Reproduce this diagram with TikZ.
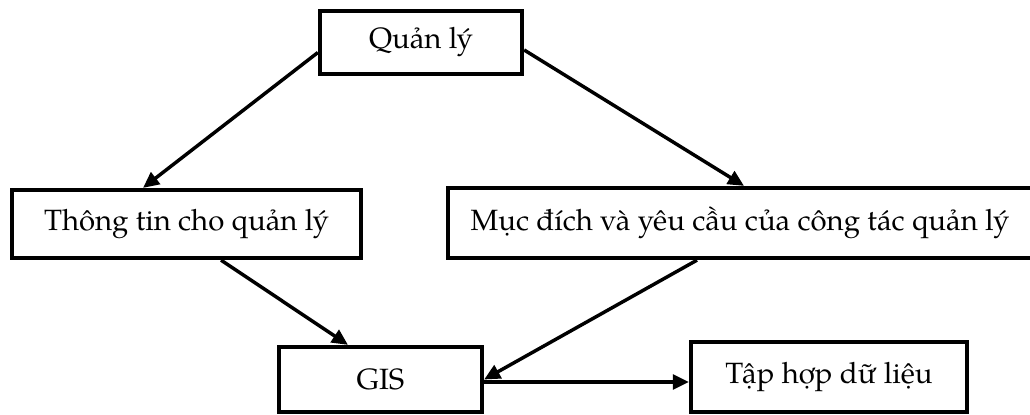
\documentclass[tikz,border=0pt]{standalone}
\usepackage{fontspec}
\setmainfont{texgyrepagella-regular.otf}
\usetikzlibrary{arrows.meta,calc}
\begin{document}
\begin{tikzpicture}[x=0.75pt,y=-0.75pt,
  box/.style={draw,line width=3.2pt,rectangle,inner sep=0pt,font=\fontsize{22}{26}\selectfont},
  link/.style={line width=2.6pt,-{Triangle[length=12pt,width=11pt]}}]
\useasboundingbox (0,0) rectangle (1030,414);
% boxes
\node[box,minimum width=151.5pt,minimum height=47.25pt] (q) at (421,42.5) {Quản lý};
\node[box,minimum width=261.75pt,minimum height=51pt] (t) at (186.5,224) {Thông tin cho quản lý};
\node[box,minimum width=438pt,minimum height=52.5pt] (m) at (740,223) {Mục đích và yêu cầu của công tác quản lý};
\node[box,minimum width=152.25pt,minimum height=48.75pt] (g) at (380.5,379.5) {GIS};
\node[box,minimum width=207pt,minimum height=52.5pt] (d) at (829,377) {Tập hợp dữ liệu};
% connectors
\draw[link] ([yshift=-7.5pt]q.west) -- ([xshift=-32.6pt]t.north);
\draw[link] ([yshift=-5.6pt]q.east) -- ([xshift=3pt]m.north);
\draw[link] ([xshift=25.9pt]t.south) -- ([xshift=-24.4pt]g.north);
\draw[link] ([xshift=-32.25pt]m.south) -- (g.east);
\coordinate (gs) at ([yshift=-1.9pt]g.east);
\draw[link] (gs) -- (gs -| d.west);
\end{tikzpicture}
\end{document}
